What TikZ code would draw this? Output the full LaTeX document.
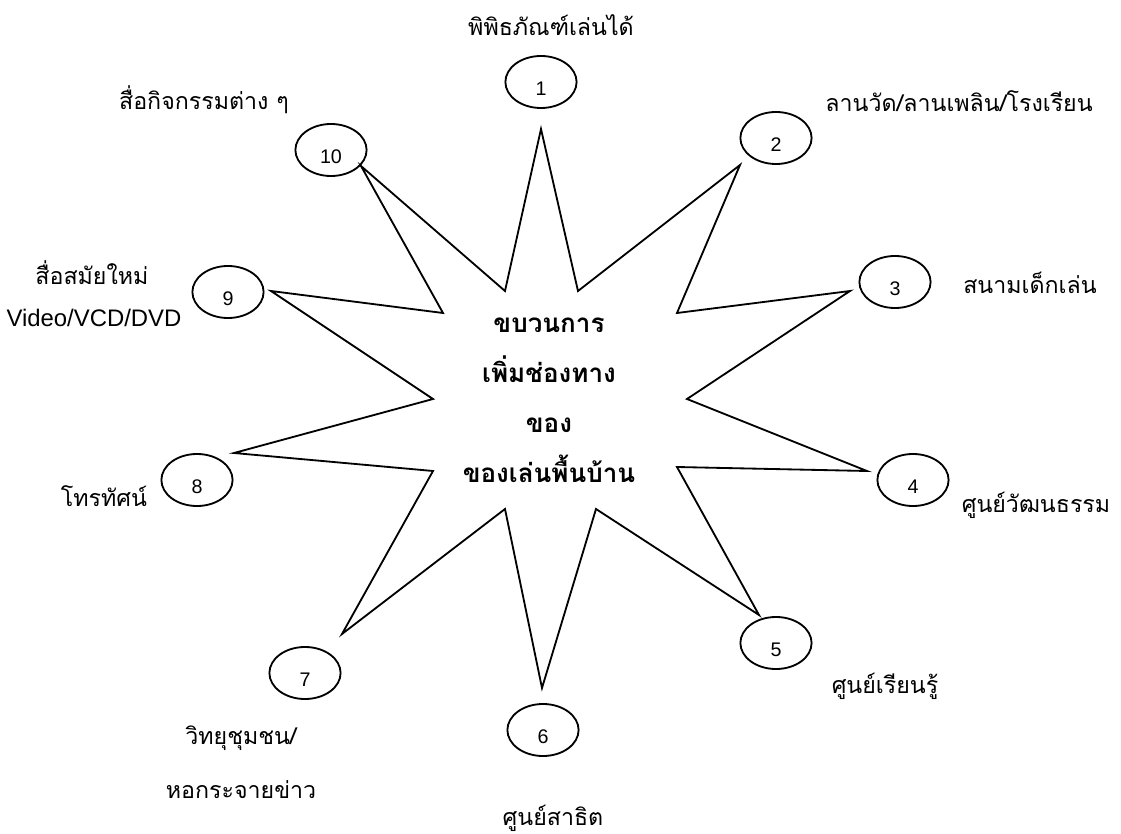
\documentclass[tikz,border=0pt]{standalone}
\usepackage{fontspec}
\setmainfont{Liberation Sans}
\newfontfamily\thaifont[Script=Thai]{Loma}
\usetikzlibrary{shapes.geometric}
\usetikzlibrary{positioning}

\begin{document}
\begin{tikzpicture}[x=0.025cm, y=-0.025cm,
    numbox/.style={draw, ellipse, line width=1.3pt, minimum width=1.78cm, minimum height=1.3cm,
        inner sep=0pt, text height=19pt, text depth=0pt, font=\fontsize{14}{16}\selectfont},
    lbl/.style={inner sep=0pt, font=\thaifont\fontsize{16.5}{18}\selectfont}]
			\useasboundingbox (0,0) rectangle (1121,834);

			% the star
			\draw[line width=1.3pt, line join=miter]
				(541,129) -- (578,291) -- (740,165) -- (677,313) -- (850,291) -- (687,399)
				-- (867,471) -- (677,467) -- (759,615) -- (596,509) -- (542,688) -- (505,509)
				-- (342,634) -- (433,471) -- (234,453) -- (433,399) -- (271,291) -- (443,313)
				-- (361,166) -- (505,291) -- cycle;
			\node[align=center, font=\thaifont\bfseries\fontsize{18.5}{35.5}\selectfont] (title) at (549,400)
				{ขบวนการ\\เพิ่มช่องทาง\\ของ\\ของเล่นพื้นบ้าน};

			% numbered ellipses
			\node[numbox] (e1) at (541,82) {1};
			\node[numbox] (e2) at (776,138) {2};
			\node[numbox] (e3) at (895,282) {3};
			\node[numbox] (e4) at (913,480) {4};
			\node[numbox] (e5) at (776,643) {5};
			\node[numbox] (e6) at (543,730) {6};
			\node[numbox] (e7) at (305,673) {7};
			\node[numbox] (e8) at (197,480) {8};
			\node[numbox] (e9) at (228,292) {9};
			\node[numbox] (e10) at (331,150) {10};

			% labels
			\node[lbl] (l1) at (551,25) {พิพิธภัณฑ์เล่นได้};
			\node[lbl] (l2) at (959,101) {ลานวัด/ลานเพลิน/โรงเรียน};
			\node[lbl] (l3) at (1030,283) {สนามเด็กเล่น};
			\node[lbl] (l4) at (1036,505) {ศูนย์วัฒนธรรม};
			\node[lbl] (l5) at (885,686) {ศูนย์เรียนรู้};
			\node[lbl] (l6) at (553,818) {ศูนย์สาธิต};
			\node[lbl] (l7) at (241,738) {วิทยุชุมชน/};
			\node[lbl] (l7b) at (241,790) {หอกระจายข่าว};
			\node[lbl] (l8) at (104,496) {โทรทัศน์};
			\node[lbl] (l9) at (92,273) {สื่อสมัยใหม่};
			\node[inner sep=0pt, font=\fontsize{17}{19}\selectfont] (l9b) at (94,318) {Video/VCD/DVD};
			\node[lbl] (l10) at (204,100) {สื่อกิจกรรมต่าง ๆ};
		\end{tikzpicture}
\end{document}
